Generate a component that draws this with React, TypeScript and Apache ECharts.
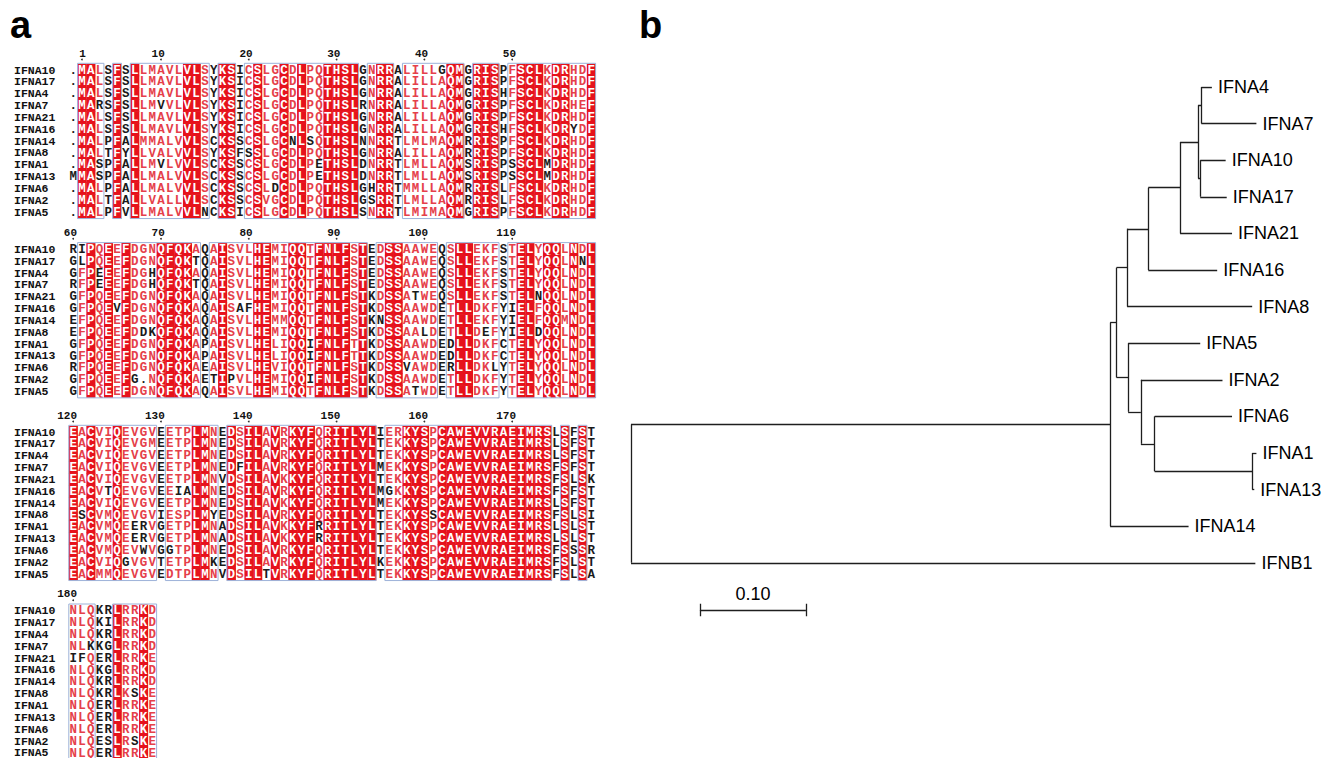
import React, { useEffect, useRef } from "react";
import * as echarts from "echarts";

// ---------------- DATA ----------------
const seqNames = ["IFNA10", "IFNA17", "IFNA4", "IFNA7", "IFNA21", "IFNA16", "IFNA14", "IFNA8", "IFNA1", "IFNA13", "IFNA6", "IFNA2", "IFNA5"];

const alignBlock1 = [
  ".MALSFSLLMAVLVLSYKSICSLGCDLPQTHSLGNRRALILLGQMGRISPFSCLKDRHDF",
  ".MALSFSLLMAVLVLSYKSICSLGCDLPQTHSLGNRRALILLAQMGRISPFSCLKDRHDF",
  ".MALSFSLLMAVLVLSYKSICSLGCDLPQTHSLGNRRALILLAQMGRISHFSCLKDRHDF",
  ".MARSFSLLMVVLVLSYKSICSLGCDLPQTHSLRNRRALILLAQMGRISPFSCLKDRHEF",
  ".MALSFSLLMAVLVLSYKSICSLGCDLPQTHSLGNRRALILLAQMGRISPFSCLKDRHDF",
  ".MALSFSLLMAVLVLSYKSICSLGCDLPQTHSLGNRRALILLAQMGRISHFSCLKDRYDF",
  ".MALPFALMMALVVLSCKSSCSLGCNLSQTHSLNNRRTLMLMAQMRRISPFSCLKDRHDF",
  ".MALTFYLLVALVVLSYKSFSSLGCDLPQTHSLGNRRALILLAQMRRISPFSCLKDRHDF",
  ".MASPFALLMVLVVLSCKSSCSLGCDLPETHSLDNRRTLMLLAQMSRISPSSCLMDRHDF",
  "MMASPFALLMALVVLSCKSSCSLGCDLPETHSLDNRRTLMLLAQMSRISPSSCLMDRHDF",
  ".MALPFALLMALVVLSCKSSCSLDCDLPQTHSLGHRRTMMLLAQMRRISLFSCLKDRHDF",
  ".MALTFALLVALLVLSCKSSCSVGCDLPQTHSLGSRRTLMLLAQMRRISLFSCLKDRHDF",
  ".MALPFVLLMALVVLNCKSICSLGCDLPQTHSLSNRRTLMIMAQMGRISPFSCLKDRHDF",
];

const alignBlock2 = [
  "RIPQEEFDGNQFQKAQAISVLHEMIQQTFNLFSTEDSSAAWEQSLLEKFSTELYQQLNDL",
  "GLPQEEFDGNQFQKTQAISVLHEMIQQTFNLFSTEDSSAAWEQSLLEKFSTELYQQLNNL",
  "GFPEEEFDGHQFQKAQAISVLHEMIQQTFNLFSTEDSSAAWEQSLLEKFSTELYQQLNDL",
  "RFPEEEFDGHQFQKTQAISVLHEMIQQTFNLFSTEDSSAAWEQSLLEKFSTELYQQLNDL",
  "GFPQEEFDGNQFQKAQAISVLHEMIQQTFNLFSTKDSSATWEQSLLEKFSTELNQQLNDL",
  "GFPQEVFDGNQFQKAQAISAFHEMIQQTFNLFSTKDSSAAWDETLLDKFYIELFQQLNDL",
  "EFPQEEFDGNQFQKAQAISVLHEMMQQTFNLFSTKNSSAAWDETLLEKFYIELFQQMNDL",
  "EFPQEEFDDKQFQKAQAISVLHEMIQQTFNLFSTKDSSAALDETLLDEFYIELDQQLNDL",
  "GFPQEEFDGNQFQKAPAISVLHELIQQIFNLFTTKDSSAAWDEDLLDKFCTELYQQLNDL",
  "GFPQEEFDGNQFQKAPAISVLHELIQQIFNLFTTKDSSAAWDEDLLDKFCTELYQQLNDL",
  "RFPQEEFDGNQFQKAEAISVLHEVIQQTFNLFSTKDSSVAWDERLLDKLYTELYQQLNDL",
  "GFPQEEFG.NQFQKAETIPVLHEMIQQIFNLFSTKDSSAAWDETLLDKFYTELYQQLNDL",
  "GFPQEEFDGNQFQKAQAISVLHEMIQQTFNLFSTKDSSATWDETLLDKFYTELYQQLNDL",
];

const alignBlock3 = [
  "EACVIQEVGVEETPLMNEDSILAVRKYFQRITLYLIERKYSPCAWEVVRAEIMRSLSFST",
  "EACVIQEVGMEETPLMNEDSILAVRKYFQRITLYLTEKKYSPCAWEVVRAEIMRSLSFST",
  "EACVIQEVGVEETPLMNEDSILAVRKYFQRITLYLTEKKYSPCAWEVVRAEIMRSLSFST",
  "EACVIQEVGVEETPLMNEDFILAVRKYFQRITLYLMEKKYSPCAWEVVRAEIMRSFSFST",
  "EACVIQEVGVEETPLMNVDSILAVKKYFQRITLYLTEKKYSPCAWEVVRAEIMRSFSLSK",
  "EACVTQEVGVEEIALMNEDSILAVRKYFQRITLYLMGKKYSPCAWEVVRAEIMRSFSFST",
  "EACVIQEVGVEETPLMNEDSILAVKKYFQRITLYLMEKKYSPCAWEVVRAEIMRSLSFST",
  "ESCVMQEVGVIESPLMYEDSILAVRKYFQRITLYLTEKKYSSCAWEVVRAEIMRSFSLSI",
  "EACVMQEERVGETPLMNADSILAVKKYFRRITLYLTEKKYSPCAWEVVRAEIMRSLSLST",
  "EACVMQEERVGETPLMNADSILAVKKYFRRITLYLTEKKYSPCAWEVVRAEIMRSLSLST",
  "EACVMQEVWVGGTPLMNEDSILAVRKYFQRITLYLTEKKYSPCAWEVVRAEIMRSFSSSR",
  "EACVIQGVGVTETPLMKEDSILAVRKYFQRITLYLKEKKYSPCAWEVVRAEIMRSFSLST",
  "EACMMQEVGVEDTPLMNVDSILTVRKYFQRITLYLTEKKYSPCAWEVVRAEIMRSFSLSA",
];

const alignBlock4 = [
  "NLQKRLRRKD",
  "NLQKILRRKD",
  "NLQKRLRRKD",
  "NLKKGLRRKD",
  "IFQERLRRKE",
  "NLQKGLRRKD",
  "NLQKRLRRKD",
  "NLQKRLKSKE",
  "NLQERLRRKE",
  "NLQERLRRKE",
  "NLQERLRRKE",
  "NLQESLRSKE",
  "NLQERLRRKE",
];

const blockFirstResidue = [0, 60, 120, 180];
const blockNumberLabels = [
  [1, 10, 20, 30, 40, 50],
  [60, 70, 80, 90, 100, 110],
  [120, 130, 140, 150, 160, 170],
  [180],
];

// similarity groups used for ESPript-like colouring
const similarityGroups = ["ILMV", "FYW", "KR", "DE", "ST"];
const similarityThreshold = 0.7;

// phylogenetic tree (leaf order top-to-bottom) and branches [child, parent, length]
const leafOrder = ["IFNA4", "IFNA7", "IFNA10", "IFNA17", "IFNA21", "IFNA16", "IFNA8", "IFNA5", "IFNA2", "IFNA6", "IFNA1", "IFNA13", "IFNA14", "IFNB1"];
const treeEdges: [string, string, number][] = [
  ["nA", "root", 0.452],
  ["IFNB1", "root", 0.589],
  ["nB", "nA", 0.006],
  ["IFNA14", "nA", 0.074],
  ["nC", "nB", 0.010],
  ["nI", "nB", 0.011],
  ["nD", "nC", 0.020],
  ["IFNA8", "nC", 0.118],
  ["nE", "nD", 0.030],
  ["IFNA16", "nD", 0.065],
  ["nF", "nE", 0.017],
  ["IFNA21", "nE", 0.049],
  ["nG", "nF", 0.003],
  ["nH", "nF", 0.002],
  ["IFNA4", "nG", 0.010],
  ["IFNA7", "nG", 0.052],
  ["IFNA10", "nH", 0.024],
  ["IFNA17", "nH", 0.025],
  ["IFNA5", "nI", 0.068],
  ["nJ", "nI", 0.012],
  ["IFNA2", "nJ", 0.077],
  ["nK", "nJ", 0.013],
  ["IFNA6", "nK", 0.073],
  ["nL", "nK", 0.092],
  ["IFNA1", "nL", 0.004],
  ["IFNA13", "nL", 0.002],
];
const scaleBarLength = 0.1;
const scaleBarLabel = "0.10";

// ---------------- LAYOUT / STYLE ----------------
const COL_PITCH = 8.78;
const ROW_PITCH = 11.85;
const ALIGN_LEFT = 68.8;
const NAME_X = 14;
const BLOCK_TOPS = [64.1, 243.4, 426.1, 604.8];
const RED = "#e6121c";
const RED_TEXT = "#e5404a";
const FRAME = "#9db2d9";
const MONO = '"Liberation Mono", "DejaVu Sans Mono", monospace';
const SANS = '"Liberation Sans", Arial, sans-serif';

const TREE_LEFT = 631;
const TREE_TOP = 87;
const PX_PER_UNIT = 1060;
const TREE_XMAX = 0.6;
const LEAF_PITCH = 36.6;
const TREE_YMAX = 15;
const SCALE_X0 = 0.065;
const SCALE_Y = 14.29;
const SCALE_LABEL_Y = 13.85;

function groupOf(c: string) {
  for (const g of similarityGroups) if (g.includes(c)) return g;
  return c;
}

function analyzeColumn(chars: string[]) {
  const n = chars.length;
  if (chars[0] !== "." && chars.every((c) => c === chars[0])) return { cons: true, sim: true, group: chars[0] };
  const counts: Record<string, number> = {};
  chars.forEach((c) => {
    if (c === ".") return;
    const g = groupOf(c);
    counts[g] = (counts[g] || 0) + 1;
  });
  let best = "";
  let bestCount = 0;
  Object.keys(counts).forEach((k) => {
    if (counts[k] > bestCount) {
      bestCount = counts[k];
      best = k;
    }
  });
  if (bestCount / n >= similarityThreshold) return { cons: false, sim: true, group: best };
  return { cons: false, sim: false, group: "" };
}

function buildOption() {
  const blocks = [alignBlock1, alignBlock2, alignBlock3, alignBlock4];
  const grid: any[] = [];
  const xAxis: any[] = [];
  const yAxis: any[] = [];
  const series: any[] = [];

  blocks.forEach((rows, b) => {
    const nCols = rows[0].length;
    grid.push({
      left: ALIGN_LEFT,
      top: BLOCK_TOPS[b],
      width: nCols * COL_PITCH,
      height: seqNames.length * ROW_PITCH,
      outerBoundsMode: "none",
      containLabel: false,
    });
    xAxis.push({
      type: "category",
      gridIndex: b,
      data: Array.from({ length: nCols }, (_, i) => String(blockFirstResidue[b] + i)),
      show: false,
    });
    yAxis.push({
      type: "category",
      gridIndex: b,
      data: seqNames,
      inverse: true,
      axisLine: { show: false },
      axisTick: { show: false },
      splitLine: { show: false },
      axisLabel: {
        interval: 0,
        hideOverlap: false,
        align: "left",
        margin: ALIGN_LEFT - NAME_X,
        fontFamily: MONO,
        fontWeight: "bold",
        fontSize: 11.5,
        color: "#111",
      },
    });

    const analyses = Array.from({ length: nCols }, (_, c) => analyzeColumn(rows.map((r) => r[c])));
    const cellData: number[][] = [];
    const cellChars: string[] = [];
    for (let c = 0; c < nCols; c++) {
      const a = analyses[c];
      rows.forEach((r, ri) => {
        const ch = r[c];
        const kind = a.cons ? 2 : a.sim && ch !== "." && groupOf(ch) === a.group ? 1 : 0;
        cellData.push([c, ri, kind]);
        cellChars.push(ch);
      });
    }

    const frames: number[][] = [];
    let start = -1;
    for (let c = 0; c <= nCols; c++) {
      const on = c < nCols && analyses[c].sim;
      if (on && start < 0) start = c;
      if (!on && start >= 0) {
        frames.push([start, c - 1]);
        start = -1;
      }
    }

    series.push({
      type: "custom",
      xAxisIndex: b,
      yAxisIndex: b,
      clip: false,
      silent: true,
      data: cellData,
      renderItem: (params: any, api: any) => {
        const col = api.value(0);
        const row = api.value(1);
        const kind = api.value(2);
        const ch = cellChars[params.dataIndex];
        const pt = api.coord([col, row]);
        const sz = api.size([1, 1]);
        const children: any[] = [];
        if (kind === 2) {
          children.push({
            type: "rect",
            shape: { x: pt[0] - sz[0] / 2, y: pt[1] - sz[1] / 2 - 0.3, width: sz[0] + 0.3, height: sz[1] + 0.6 },
            style: { fill: RED },
          });
        }
        children.push({
          type: "text",
          x: pt[0],
          y: pt[1] + 0.6,
          style: {
            text: ch,
            fill: kind === 2 ? "#ffffff" : kind === 1 ? RED_TEXT : "#1a1a1a",
            font: `bold 12.5px ${MONO}`,
            align: "center",
            verticalAlign: "middle",
          },
        });
        return { type: "group", children };
      },
    });

    series.push({
      type: "custom",
      xAxisIndex: b,
      yAxisIndex: b,
      clip: false,
      silent: true,
      data: frames,
      renderItem: (params: any, api: any) => {
        const s = api.value(0);
        const e = api.value(1);
        const p1 = api.coord([s, 0]);
        const p2 = api.coord([e, seqNames.length - 1]);
        const sz = api.size([1, 1]);
        return {
          type: "rect",
          shape: {
            x: p1[0] - sz[0] / 2,
            y: p1[1] - sz[1] / 2 - 0.8,
            width: p2[0] - p1[0] + sz[0],
            height: p2[1] - p1[1] + sz[1] + 1.2,
          },
          style: { fill: "none", stroke: FRAME, lineWidth: 1 },
        };
      },
    });

    series.push({
      type: "custom",
      xAxisIndex: b,
      yAxisIndex: b,
      clip: false,
      silent: true,
      data: blockNumberLabels[b].map((n) => [n - blockFirstResidue[b], n]),
      renderItem: (params: any, api: any) => {
        const col = api.value(0);
        const num = api.value(1);
        const pt = api.coord([col, 0]);
        return {
          type: "group",
          children: [
            {
              type: "text",
              x: pt[0] + 3.8,
              y: pt[1] - 16.5,
              style: {
                text: String(num),
                fill: "#111",
                font: `bold 11px ${MONO}`,
                align: "right",
                verticalAlign: "middle",
              },
            },
            { type: "circle", shape: { cx: pt[0], cy: pt[1] - 10.5, r: 0.9 }, style: { fill: "#333" } },
          ],
        };
      },
    });
  });

  // ---------- tree ----------
  const tg = blocks.length;
  grid.push({
    left: TREE_LEFT,
    top: TREE_TOP,
    width: TREE_XMAX * PX_PER_UNIT,
    height: TREE_YMAX * LEAF_PITCH,
    outerBoundsMode: "none",
    containLabel: false,
  });
  xAxis.push({ type: "value", gridIndex: tg, min: 0, max: TREE_XMAX, show: false });
  yAxis.push({ type: "value", gridIndex: tg, min: 0, max: TREE_YMAX, inverse: true, show: false });

  const childrenOf: Record<string, string[]> = {};
  const depth: Record<string, number> = { root: 0 };
  treeEdges.forEach(([c, p, l]) => {
    (childrenOf[p] = childrenOf[p] || []).push(c);
    depth[c] = depth[p] + l;
  });
  const yPos: Record<string, number> = {};
  const computeY = (n: string): number => {
    if (!childrenOf[n]) return (yPos[n] = leafOrder.indexOf(n));
    const ys = childrenOf[n].map(computeY);
    return (yPos[n] = (Math.min(...ys) + Math.max(...ys)) / 2);
  };
  computeY("root");

  const segs: any[] = [];
  treeEdges.forEach(([c, p]) => {
    segs.push({ coords: [[depth[p], yPos[c]], [depth[c], yPos[c]]] });
  });
  Object.keys(childrenOf).forEach((n) => {
    const ys = childrenOf[n].map((c) => yPos[c]);
    segs.push({ coords: [[depth[n], Math.min(...ys)], [depth[n], Math.max(...ys)]] });
  });
  // scale bar
  const sx1 = SCALE_X0 + scaleBarLength;
  segs.push({ coords: [[SCALE_X0, SCALE_Y], [sx1, SCALE_Y]] });
  segs.push({ coords: [[SCALE_X0, SCALE_Y - 0.17], [SCALE_X0, SCALE_Y + 0.17]] });
  segs.push({ coords: [[sx1, SCALE_Y - 0.17], [sx1, SCALE_Y + 0.17]] });

  series.push({
    type: "lines",
    coordinateSystem: "cartesian2d",
    xAxisIndex: tg,
    yAxisIndex: tg,
    silent: true,
    data: segs,
    lineStyle: { color: "#1e1e1e", width: 1.3, opacity: 1, curveness: 0 },
    effect: { show: false },
  });

  const treeTextStyle = {
    fontFamily: SANS,
    fontSize: 18,
    color: "#000000",
    opacity: 1,
    textBorderWidth: 0,
  };

  series.push({
    type: "scatter",
    xAxisIndex: tg,
    yAxisIndex: tg,
    silent: true,
    symbolSize: 0.1,
    itemStyle: { color: "#ffffff", opacity: 1 },
    data: leafOrder.map((n) => [depth[n], yPos[n], n]),
    label: {
      show: true,
      position: "right",
      distance: 6,
      formatter: (p: any) => p.data[2],
      ...treeTextStyle,
    },
  });

  series.push({
    type: "scatter",
    xAxisIndex: tg,
    yAxisIndex: tg,
    silent: true,
    symbolSize: 0.1,
    itemStyle: { color: "#ffffff", opacity: 1 },
    data: [[SCALE_X0 + scaleBarLength / 2, SCALE_LABEL_Y]],
    label: {
      show: true,
      position: "inside",
      formatter: scaleBarLabel,
      ...treeTextStyle,
    },
  });

  return {
    animation: false,
    backgroundColor: "#ffffff",
    grid,
    xAxis,
    yAxis,
    series,
    graphic: [
      {
        type: "text",
        x: 10,
        y: 25,
        style: { text: "a", font: `bold 38px ${SANS}`, fill: "#000", verticalAlign: "middle" },
      },
      {
        type: "text",
        x: 639,
        y: 25,
        style: { text: "b", font: `bold 38px ${SANS}`, fill: "#000", verticalAlign: "middle" },
      },
    ],
  };
}

export default function App() {
  const ref = useRef<HTMLDivElement>(null);
  useEffect(() => {
    if (!ref.current) return;
    const chart = echarts.init(ref.current, null, { renderer: "svg" });
    chart.setOption(buildOption() as any);
    return () => chart.dispose();
  }, []);
  return (
    <div
      ref={ref}
      style={{ position: "absolute", left: 0, top: 0, width: 1333, height: 758, background: "#fff" }}
    />
  );
}
